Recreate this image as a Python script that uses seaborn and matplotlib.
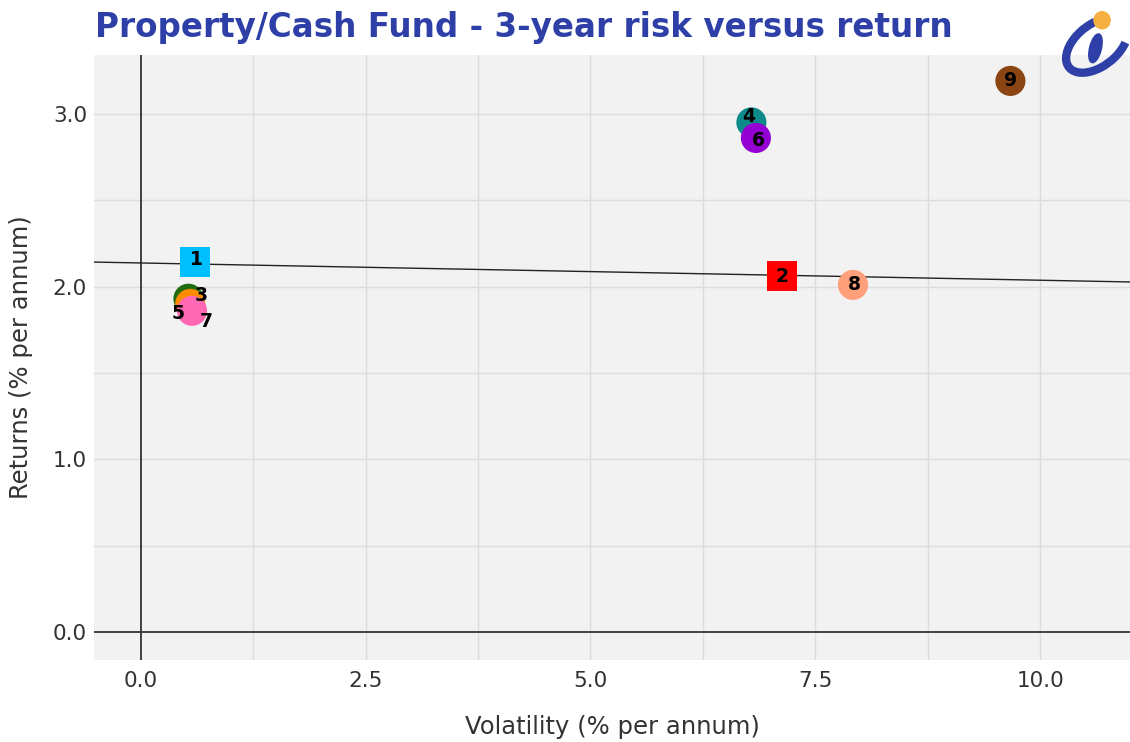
import matplotlib
matplotlib.use("Agg")
import matplotlib.pyplot as plt
import seaborn as sns
import pandas as pd
from matplotlib.patches import Arc, Circle, Ellipse

# ---- data ----
labels = ["1", "2", "3", "4", "5", "6", "7", "8", "9"]
volatility = [0.60, 7.13, 0.53, 6.79, 0.55, 6.84, 0.57, 7.92, 9.67]
returns = [2.14, 2.06, 1.93, 2.95, 1.90, 2.86, 1.86, 2.01, 3.19]
shapes = ["s", "s", "o", "o", "o", "o", "o", "o", "o"]
colors = ["#00BFFF", "#FF0000", "#1E6B12", "#0E8A8A", "#FF8C00",
          "#9400D3", "#FF69B4", "#FFA07A", "#8B4513"]
label_offsets = [(1, 2), (0, 0), (9, 2), (-2, 4), (-9, -7), (2, -2), (10, -8), (1, 0), (0, 0)]
line_x = [-0.52, 11.0]
line_y = [2.142, 2.027]
xticks = [0.0, 2.5, 5.0, 7.5, 10.0]
yticks = [0.0, 1.0, 2.0, 3.0]

df = pd.DataFrame({"label": labels, "vol": volatility, "ret": returns,
                   "shape": shapes})

sns.set_theme(style="white")
plt.rcParams["font.family"] = ["DejaVu Sans"]

fig = plt.figure(figsize=(11.3, 7.42), dpi=100)
ax = fig.add_axes([0.0832, 0.1105, 0.9168, 0.8154])
ax.set_facecolor("#F2F2F2")

# grid
for v in [1.25, 2.5, 3.75, 5.0, 6.25, 7.5, 8.75, 10.0]:
    ax.axvline(v, color="#DCDCDC", lw=1, zorder=0)
for v in [0.5, 1.0, 1.5, 2.0, 2.5, 3.0]:
    ax.axhline(v, color="#DCDCDC", lw=1, zorder=0)
ax.axvline(0, color="#333333", lw=1.3, zorder=1)
ax.axhline(0, color="#333333", lw=1.3, zorder=1)

sns.lineplot(x=line_x, y=line_y, ax=ax, color="#222222", lw=1, zorder=2)

sns.scatterplot(data=df, x="vol", y="ret", hue="label", style="label",
                palette=dict(zip(labels, colors)),
                markers=dict(zip(labels, shapes)),
                s=470, linewidth=0, ax=ax, legend=False, zorder=3)

for lab, x, y, off in zip(labels, volatility, returns, label_offsets):
    ax.annotate(lab, (x, y), xytext=off, textcoords="offset points",
                ha="center", va="center", fontsize=13.5, fontweight="bold",
                color="black", zorder=4)

ax.set_xlim(-0.52, 11.0)
ax.set_ylim(-0.16, 3.34)
ax.set_xticks(xticks)
ax.set_xticklabels([f"{t:.1f}" for t in xticks])
ax.set_yticks(yticks)
ax.set_yticklabels([f"{t:.1f}" for t in yticks])
ax.tick_params(axis="both", labelsize=15.5, colors="#333333", length=0)
ax.tick_params(axis="x", pad=8)
ax.tick_params(axis="y", pad=5)
for sp in ax.spines.values():
    sp.set_visible(False)
ax.set_xlabel("Volatility (% per annum)", fontsize=17.5, color="#333333", labelpad=17)
ax.set_ylabel("Returns (% per annum)", fontsize=17.5, color="#333333", labelpad=14)

fig.text(0.084, 0.963, "Property/Cash Fund - 3-year risk versus return",
         fontsize=23.5, fontweight="bold", color="#2E40A8", va="center", ha="left")

# logo
lax = fig.add_axes([0.935, 0.895, 0.065, 0.105])
lax.set_xlim(0, 1); lax.set_ylim(0, 1); lax.axis("off")
lax.add_patch(Arc((0.55, 0.42), 0.95, 0.55, angle=35, theta1=60, theta2=330,
                  lw=6, color="#2E40A8"))
lax.add_patch(Ellipse((0.53, 0.38), 0.16, 0.38, angle=-15, color="#2E40A8"))
lax.add_patch(Circle((0.62, 0.74), 0.11, color="#F5B041"))

fig.savefig("out.png", dpi=100)
